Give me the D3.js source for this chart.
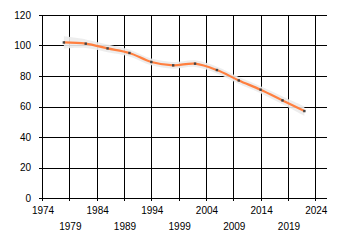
<!DOCTYPE html>
<html lang="en">
<head>
    <meta charset="UTF-8">
    <title>Trend chart</title>
    <script src="https://d3js.org/d3.v7.min.js"></script>
    <style>
        body { margin: 0; background: #fff; }
        text { font-family: "Liberation Sans", Arial, sans-serif; font-size: 10px; fill: #000; }
    </style>
</head>
<body>
    <div id="chart"></div>

    <script>
        // data
        var years  = [1978, 1982, 1986, 1990, 1994, 1998, 2002, 2006, 2010, 2014, 2018, 2022];
        var values = [102, 101.2, 98.1, 95.1, 89.2, 87, 88.1, 83.9, 77.1, 71, 64, 57];
        var lower  = [98, 98.4, 95.6, 92.8, 87, 84.8, 85.9, 81.7, 74.9, 68.7, 61.4, 53.8];
        var upper  = [106, 104, 100.6, 97.4, 91.4, 89.2, 90.3, 86.1, 79.3, 73.3, 66.6, 60.2];
        var xTicks = [1974, 1979, 1984, 1989, 1994, 1999, 2004, 2009, 2014, 2019, 2024];
        var yTicks = [0, 20, 40, 60, 80, 100, 120];

        var data = years.map((y, i) => ({ year: y, value: values[i], lo: lower[i], hi: upper[i] }));

        // plot box
        var W = 340, H = 245;
        var plotL = 42, plotR = 327, plotT = 15, plotB = 198;

        var svg = d3.select("#chart").append("svg")
            .attr("width", W)
            .attr("height", H);

        var x = d3.scaleLinear().domain([1974, 2024]).range([plotL, 315.3]);
        var y = d3.scaleLinear().domain([0, 120]).range([plotB, plotT]);

        // grid
        var grid = svg.append("g").attr("shape-rendering", "crispEdges");
        grid.selectAll(".hg").data(yTicks).enter().append("line")
            .attr("x1", plotL - 3).attr("x2", plotR)
            .attr("y1", d => Math.round(y(d)) + 0.5).attr("y2", d => Math.round(y(d)) + 0.5)
            .attr("stroke", "#000");
        grid.selectAll(".vg").data(xTicks).enter().append("line")
            .attr("x1", d => Math.round(x(d)) + 0.5).attr("x2", d => Math.round(x(d)) + 0.5)
            .attr("y1", plotT).attr("y2", plotB + 3)
            .attr("stroke", "#000");

        // y labels
        svg.selectAll(".yl").data(yTicks).enter().append("text")
            .attr("x", 31)
            .attr("y", d => y(d) + 3.5)
            .attr("text-anchor", "end")
            .text(d => d);

        // x labels, staggered on two rows
        svg.selectAll(".xl").data(xTicks).enter().append("text")
            .attr("x", d => x(d) + 1)
            .attr("y", (d, i) => i % 2 === 0 ? 213.5 : 230)
            .attr("text-anchor", "middle")
            .text(d => d);

        var curve = d3.curveCatmullRom.alpha(0.5);

        // band
        var area = d3.area()
            .x(d => x(d.year))
            .y0(d => y(d.lo))
            .y1(d => y(d.hi))
            .curve(curve);

        svg.append("path")
            .datum(data)
            .attr("fill", "#ebebeb")
            .attr("opacity", 0.9)
            .attr("d", area);

        // line
        var line = d3.line()
            .x(d => x(d.year))
            .y(d => y(d.value))
            .curve(curve);

        svg.append("path")
            .datum(data)
            .attr("fill", "none")
            .attr("stroke", "#ff7f3f")
            .attr("stroke-width", 2.2)
            .attr("d", line);

        // point markers
        svg.selectAll(".pt").data(data).enter().append("rect")
            .attr("x", d => x(d.year) - 1.2)
            .attr("y", d => y(d.value) - 1.2)
            .attr("width", 2.4)
            .attr("height", 2.4)
            .attr("fill", "#444");
    </script>
</body>
</html>
